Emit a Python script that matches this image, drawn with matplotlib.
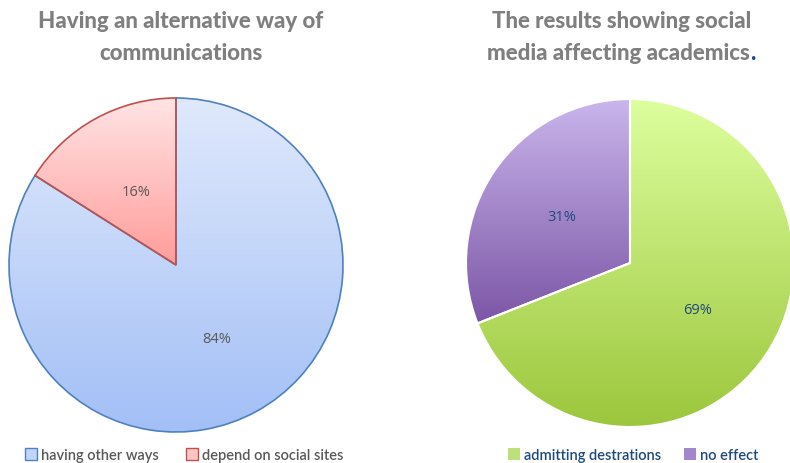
import numpy as np
import matplotlib.pyplot as plt
from matplotlib.patches import Patch
from matplotlib.colors import LinearSegmentedColormap

# left chart: alternative ways of communicating
comm_labels = ["having other ways", "depend on social sites"]
comm_values = [84, 16]

# right chart: effect of social media on academics
acad_labels = ["admitting destrations", "no effect"]
acad_values = [69, 31]

W, H = 790, 464
fig = plt.figure(figsize=(W / 100, H / 100), dpi=100)
ax = fig.add_axes([0, 0, 1, 1])

GRAY = "#7f7f7f"
NAVY = "#1f497d"


def grad_pie(values, center, radius, grads, edges, lw, txtcolor):
    wedges, texts, autotexts = ax.pie(
        values, center=center, radius=radius, startangle=90, counterclock=False,
        autopct="%d%%", pctdistance=0.5, frame=True,
        wedgeprops=dict(facecolor="none", linewidth=lw),
        textprops=dict(color=txtcolor, fontsize=10.5, family="Open Sans"))
    for w, (top, bot), ec in zip(wedges, grads, edges):
        w.set_edgecolor(ec)
        w.set_zorder(3)
        # vertical gradient over the wedge's own bounding box
        verts = w.get_path().vertices
        x0, x1 = verts[:, 0].min(), verts[:, 0].max()
        y0, y1 = verts[:, 1].min(), verts[:, 1].max()
        cmap = LinearSegmentedColormap.from_list("g", [bot, top])
        img = ax.imshow(np.linspace(0, 1, 256).reshape(-1, 1), cmap=cmap,
                        extent=[x0, x1, y0, y1], origin="lower",
                        aspect="auto", zorder=2)
        img.set_clip_path(w)
    for t in autotexts:
        t.set_zorder(5)
    return wedges


grad_pie(comm_values, (176, H - 266), 167,
         [("#e0e9fc", "#a2bff6"), ("#ffe4e4", "#ff9c9a")],
         ["#4f81bd", "#c0504d"], 1.2, "#595959")
grad_pie(acad_values, (630, H - 264), 164,
         [("#ddff9e", "#9cc63c"), ("#cab6ec", "#7c56a6")],
         ["white", "white"], 1.5, NAVY)

ax.set_xlim(0, W)
ax.set_ylim(0, H)
ax.set_aspect("equal")
ax.axis("off")

# titles
title_kw = dict(ha="center", va="center", fontsize=16, fontweight="black",
                family="Lato", color=GRAY)
fig.text(181 / W, 1 - 22 / H, "Having an alternative way of", **title_kw)
fig.text(181 / W, 1 - 53 / H, "communications", **title_kw)
fig.text(622 / W, 1 - 22 / H, "The results showing social", **title_kw)
line2 = fig.text(618 / W, 1 - 53 / H, "media affecting academics", **title_kw)

# blue full stop right after the second title line
fig.canvas.draw()
bb = line2.get_window_extent()
fig.text(bb.x1 / W + 0.0005, 1 - 53 / H, ".", ha="left", va="center",
         fontsize=16, fontweight="black", family="Lato", color=NAVY)

# legends
left_handles = [Patch(facecolor="#c2d5f9", edgecolor="#4f81bd", label=comm_labels[0]),
                Patch(facecolor="#ffc4c4", edgecolor="#c0504d", label=comm_labels[1])]
right_handles = [Patch(facecolor="#bde07a", edgecolor="none", label=acad_labels[0]),
                 Patch(facecolor="#a386cc", edgecolor="none", label=acad_labels[1])]
for handles, x, col, gap in [(left_handles, 184 / W, "#595959", 1.9),
                             (right_handles, 633 / W, NAVY, 1.6)]:
    leg = fig.legend(handles=handles, loc="center", bbox_to_anchor=(x, 1 - 456 / H),
                     ncol=2, frameon=False, handlelength=0.85, handleheight=0.85,
                     handletextpad=0.25, columnspacing=gap,
                     prop=dict(family="Lato", size=10.5, weight="semibold"))
    for t in leg.get_texts():
        t.set_color(col)

fig.savefig("out.png", dpi=100)
